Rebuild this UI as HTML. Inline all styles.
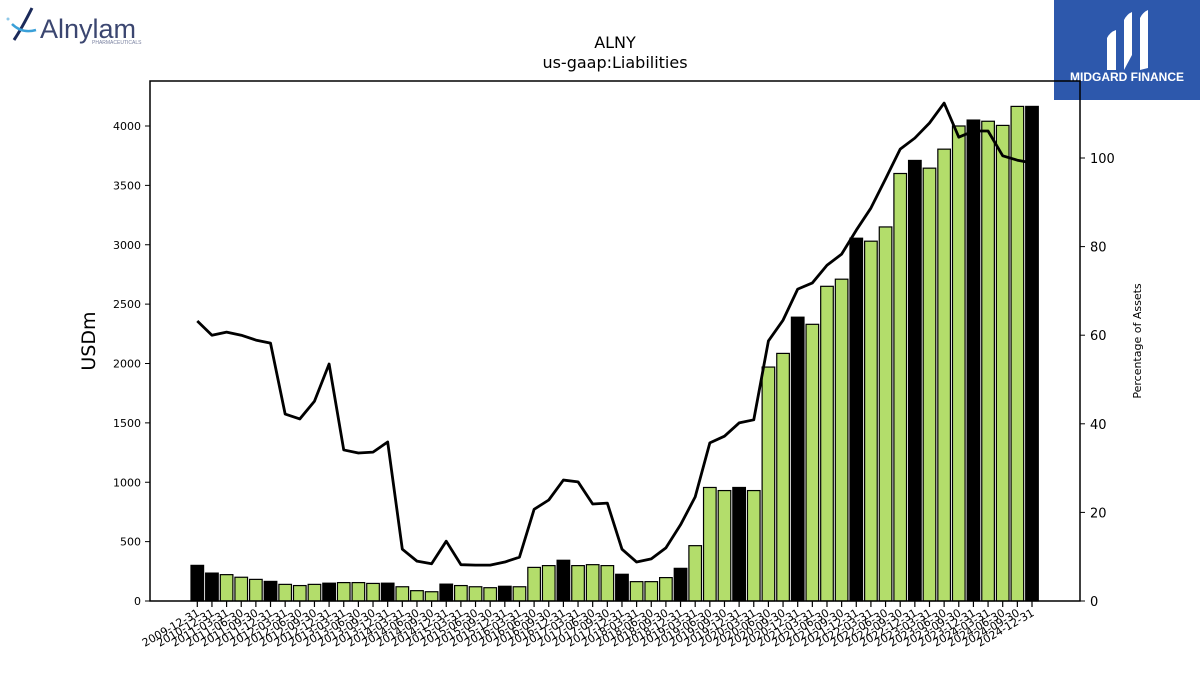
<!DOCTYPE html>
<html><head><meta charset="utf-8"><style>
body{margin:0;background:#fff;width:1200px;height:675px;overflow:hidden;font-family:"DejaVu Sans","Liberation Sans",sans-serif;}
svg{position:absolute;left:0;top:0}
</style></head><body>
<svg id="c" width="1200" height="675" xmlns="http://www.w3.org/2000/svg">
<g>
<path d="M14 40 Q22 28 32 8" stroke="#1b2a5a" stroke-width="3" fill="none"/>
<path d="M12 24 Q22 34 36 30" stroke="#3aa0d8" stroke-width="2.5" fill="none"/>
<circle cx="8" cy="19" r="1.5" fill="#8fc8e8"/>
<text x="40" y="38" font-size="27" fill="#3b4670" font-family="Liberation Sans, sans-serif">Alnylam</text>
<text x="92" y="44" font-size="5" fill="#7a82a0" font-family="Liberation Sans, sans-serif">PHARMACEUTICALS</text>
</g>
<g>
<rect x="1054" y="0" width="146" height="100" fill="#2d58ac"/>
<path d="M1107 70 L1107 38 Q1110 32 1116 30 L1116 70 Z" fill="#fff"/>
<path d="M1124 70 L1124 20 Q1127 14 1132 12 L1132 55 Z" fill="#fff"/>
<path d="M1140 70 L1140 18 Q1143 12 1148 10 L1148 68 Z" fill="#fff"/>
<text x="1127" y="81" font-size="12" font-weight="bold" fill="#fff" text-anchor="middle" font-family="Liberation Sans, sans-serif">MIDGARD FINANCE</text>
</g>
<text x="615" y="48" font-size="16" text-anchor="middle">ALNY</text>
<text x="615" y="68" font-size="16" text-anchor="middle">us-gaap:Liabilities</text>
<g id="plot"></g>
</svg>
<script>
const dates = [];
(function(){dates.push('2009-12-31');const q=['03-31','06-30','09-30','12-31'];dates.push('2010-12-31');for(let y=2011;y<=2024;y++)for(const s of q)dates.push(y+'-'+s);})();
const liabilities = [300,235,222,200,182,165,140,130,140,150,155,155,148,150,120,87,78,142,130,120,112,124,120,283,298,343,298,306,298,225,163,163,197,275,466,956,930,956,930,1970,2085,2390,2330,2650,2710,3055,3030,3150,3600,3710,3645,3805,4000,4050,4040,4005,4165,4165];
const pctAssets = [63.2,60,60.7,60,58.9,58.2,42.2,41.1,45.1,53.5,34.1,33.4,33.6,35.9,11.7,9,8.4,13.5,8.2,8.1,8.1,8.8,9.9,20.7,22.8,27.3,26.9,21.9,22.1,11.7,8.8,9.5,12,17.2,23.5,35.7,37.2,40.2,40.9,58.7,63.4,70.4,71.8,75.8,78.3,83.7,88.7,95.3,102,104.5,107.9,112.4,104.7,106.1,106.1,100.5,99.5,98.9];
const leftTicks = [0,500,1000,1500,2000,2500,3000,3500,4000];
const rightTicks = [0,20,40,60,80,100];
const NS='http://www.w3.org/2000/svg';
const g=document.getElementById('plot');
const L=150,R=1080,T=81,B=601;
const yL=v=>B-v*0.11875;
const yR=v=>B-v*4.43;
const x0=197.3,step=(1032-197.3)/(dates.length-1);
const xS=i=>x0+i*step;
function el(t,a){const e=document.createElementNS(NS,t);for(const k in a)e.setAttribute(k,a[k]);g.appendChild(e);return e;}
liabilities.forEach((v,i)=>{
 const r=el('rect',{x:xS(i)-6.3,y:yL(v),width:12.6,height:B-yL(v),fill:dates[i].endsWith('12-31')?'#000':'#b3dd6b',stroke:'#000','stroke-width':1.2});
 
 
});
const line=el('polyline',{points:pctAssets.map((v,i)=>xS(i)+','+yR(v)).join(' '),fill:'none',stroke:'#000','stroke-width':2.8,'stroke-linejoin':'round'});


const fr=el('rect',{x:L,y:T,width:R-L,height:B-T,fill:'none',stroke:'#000','stroke-width':1.5});


leftTicks.forEach(v=>{
 el('line',{x1:L-5,x2:L,y1:yL(v),y2:yL(v),stroke:'#000'});
 const t=el('text',{x:L-9,y:yL(v)+4,'font-size':11,'text-anchor':'end'});t.textContent=v;
 
 
});
rightTicks.forEach(v=>{
 el('line',{x1:R,x2:R+5,y1:yR(v),y2:yR(v),stroke:'#000'});
 const t=el('text',{x:R+10,y:yR(v)+5,'font-size':13});t.textContent=v;
 
 
});
dates.forEach((d,i)=>{
 el('line',{x1:xS(i),x2:xS(i),y1:B,y2:B+6,stroke:'#000','stroke-width':1.2});
 const t=el('text',{x:xS(i)+3,y:B+14,'font-size':11,'text-anchor':'end',transform:`rotate(-30 ${xS(i)+3} ${B+14})`});t.textContent=d;
 
 
});
const yt=el('text',{x:95,y:341,'font-size':19,'text-anchor':'middle',transform:'rotate(-90 95 341)'});yt.textContent='USDm';


const yt2=el('text',{x:1141,y:341,'font-size':11,'text-anchor':'middle',transform:'rotate(-90 1141 341)'});yt2.textContent='Percentage of Assets';


</script>
</body></html>
